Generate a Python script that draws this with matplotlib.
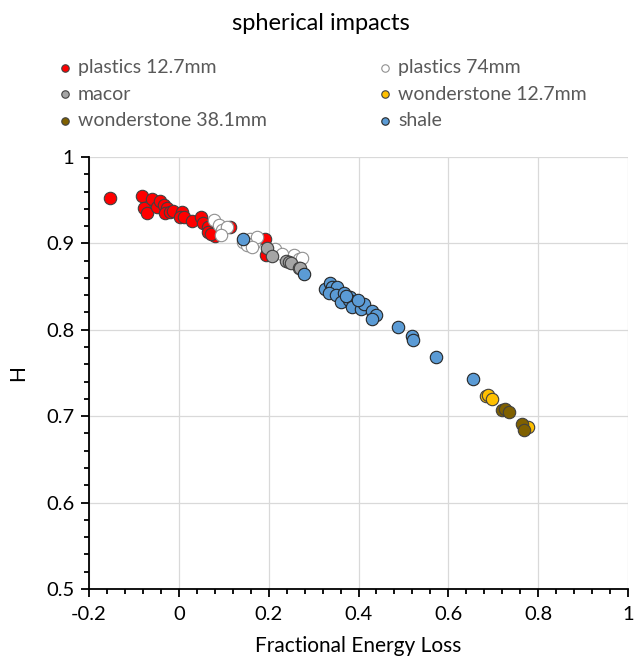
import matplotlib
matplotlib.use("Agg")
import matplotlib.pyplot as plt
from matplotlib.ticker import MultipleLocator

plt.rcParams['font.family'] = ['Lato', 'DejaVu Sans']

# ---- data ----
plastics_127_x = [-0.153, -0.083, -0.077, -0.071, -0.060, -0.049, -0.043, -0.034, -0.026, -0.030,
                  -0.020, -0.012, 0.007, 0.003, 0.012, 0.029, 0.050, 0.054, 0.064, 0.066,
                  0.081, 0.072, 0.115, 0.191, 0.193]
plastics_127_y = [0.953, 0.955, 0.941, 0.935, 0.951, 0.942, 0.949, 0.944, 0.941, 0.935,
                  0.936, 0.937, 0.936, 0.931, 0.930, 0.926, 0.930, 0.923, 0.919, 0.913,
                  0.909, 0.911, 0.919, 0.905, 0.886]

plastics_74_x = [0.078, 0.090, 0.096, 0.107, 0.094, 0.143, 0.152, 0.159, 0.167, 0.174,
                 0.162, 0.215, 0.230, 0.256, 0.267, 0.275]
plastics_74_y = [0.927, 0.921, 0.915, 0.919, 0.910, 0.902, 0.898, 0.905, 0.900, 0.907,
                 0.896, 0.894, 0.888, 0.886, 0.882, 0.883]

macor_x = [0.197, 0.208, 0.238, 0.245, 0.249, 0.267, 0.270]
macor_y = [0.895, 0.885, 0.880, 0.879, 0.877, 0.871, 0.872]

ws127_x = [0.684, 0.689, 0.697, 0.777]
ws127_y = [0.723, 0.725, 0.720, 0.687]

ws381_x = [0.720, 0.727, 0.734, 0.764, 0.769]
ws381_y = [0.707, 0.708, 0.705, 0.691, 0.684]

shale_x = [0.143, 0.279, 0.325, 0.336, 0.342, 0.353, 0.334, 0.349, 0.368, 0.382,
           0.360, 0.379, 0.373, 0.386, 0.405, 0.412, 0.398, 0.429, 0.440, 0.431,
           0.489, 0.518, 0.522, 0.573, 0.655]
shale_y = [0.905, 0.864, 0.847, 0.854, 0.850, 0.849, 0.842, 0.840, 0.842, 0.838,
           0.832, 0.834, 0.839, 0.826, 0.824, 0.830, 0.835, 0.822, 0.817, 0.813,
           0.803, 0.793, 0.788, 0.768, 0.743]

series = [
    ("plastics 12.7mm", plastics_127_x, plastics_127_y, "#FF0000", "#404040"),
    ("plastics 74mm", plastics_74_x, plastics_74_y, "#FFFFFF", "#909090"),
    ("macor", macor_x, macor_y, "#A5A5A5", "#404040"),
    ("wonderstone 12.7mm", ws127_x, ws127_y, "#FFC000", "#404040"),
    ("wonderstone 38.1mm", ws381_x, ws381_y, "#7F6000", "#404040"),
    ("shale", shale_x, shale_y, "#5B9BD5", "#262626"),
]

fig = plt.figure(figsize=(6.44, 6.62), dpi=100)
ax = fig.add_axes([0.1382, 0.1103, 0.8370, 0.6526])

handles = {}
for label, xs, ys, fc, ec in series:
    handles[label] = ax.scatter(xs, ys, s=80, facecolor=fc, edgecolor=ec,
                                linewidth=0.8, zorder=3, label=label)

ax.set_xlim(-0.2, 1.0)
ax.set_ylim(0.5, 1.0)
ax.xaxis.set_major_locator(MultipleLocator(0.2))
ax.xaxis.set_minor_locator(MultipleLocator(0.04))
ax.yaxis.set_major_locator(MultipleLocator(0.1))
ax.yaxis.set_minor_locator(MultipleLocator(0.02))
ax.xaxis.set_major_formatter(plt.FuncFormatter(lambda v, p: f"{v:g}"))
ax.yaxis.set_major_formatter(plt.FuncFormatter(lambda v, p: f"{v:g}"))

ax.grid(True, which='major', color='#D9D9D9', linewidth=0.9, zorder=0)
for s in ['top', 'right']:
    ax.spines[s].set_visible(False)
for s in ['left', 'bottom']:
    ax.spines[s].set_linewidth(1.3)
    ax.spines[s].set_color('black')

ax.tick_params(which='major', direction='out', length=5.5, width=1.3, labelsize=14.5)
ax.tick_params(axis='x', which='major', pad=7)
ax.tick_params(axis='y', which='major', pad=5)
ax.tick_params(which='minor', direction='out', length=3.8, width=1.3)

ax.set_xlabel("Fractional Energy Loss", fontsize=15, labelpad=9)
ax.set_ylabel("H", fontsize=15, labelpad=13)

fig.text(0.499, 0.965, "spherical impacts", ha='center', va='center',
         fontsize=17, color='black')

order = ["plastics 12.7mm", "plastics 74mm", "macor", "wonderstone 12.7mm",
         "wonderstone 38.1mm", "shale"]
# column-major order for ncol=2: left column then right column
col_order = [order[0], order[2], order[4], order[1], order[3], order[5]]
leg = fig.legend([handles[k] for k in col_order], col_order, ncol=2,
                 loc='upper left', bbox_to_anchor=(0.059, 0.937), frameon=False,
                 fontsize=14, markerscale=0.6, handletextpad=0.15,
                 columnspacing=5.6, labelspacing=0.48, handlelength=1.0)
for t in leg.get_texts():
    t.set_color('#595959')

fig.savefig("out.png", dpi=100)
